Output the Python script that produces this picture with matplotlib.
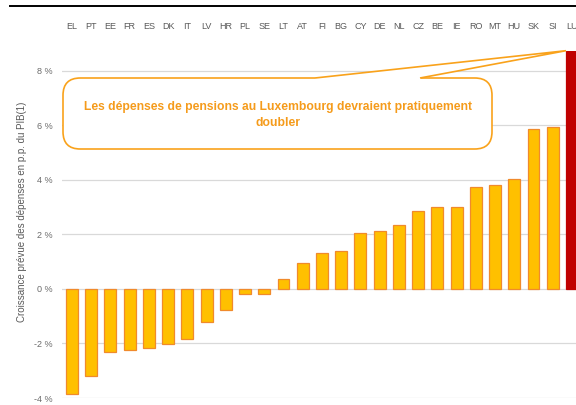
import matplotlib
matplotlib.use("Agg")
import matplotlib.pyplot as plt
from matplotlib.patches import FancyBboxPatch, Polygon
from matplotlib.lines import Line2D
from matplotlib.ticker import FuncFormatter

plt.rcParams['font.family'] = ['Liberation Sans', 'DejaVu Sans']

countries = ["EL", "PT", "EE", "FR", "ES", "DK", "IT", "LV", "HR", "PL", "SE", "LT", "AT",
             "FI", "BG", "CY", "DE", "NL", "CZ", "BE", "IE", "RO", "MT", "HU", "SK", "SI", "LU"]
values = [-3.85, -3.2, -2.31, -2.23, -2.15, -2.01, -1.85, -1.22, -0.77, -0.17, -0.17, 0.38, 0.97,
          1.32, 1.38, 2.06, 2.12, 2.33, 2.86, 3.0, 3.0, 3.75, 3.81, 4.02, 5.85, 5.94, 8.74]
yticks = [-4, -2, 0, 2, 4, 6, 8]
highlight = "LU"
callout_text = "Les dépenses de pensions au Luxembourg devraient pratiquement\ndoubler"
ylabel = "Croissance prévue des dépenses en p.p. du PIB(1)"

W, H = 576, 405
fig = plt.figure(figsize=(W / 100, H / 100), dpi=100)
ax = fig.add_axes([62 / W, 7 / H, (W - 62) / W, (398 - 50.7) / H])

bar_w = 0.62
colors = ['#C00000' if c == highlight else '#FFC000' for c in countries]
edges = ['#C00000' if c == highlight else '#F08A2C' for c in countries]
x = list(range(len(countries)))
ax.bar(x, values, width=bar_w, color=colors, edgecolor=edges, linewidth=0.9, zorder=3)

ax.set_xlim(-0.52, 26.21)
ax.set_ylim(-4.0, 8.74)
ax.set_yticks(yticks)
ax.yaxis.set_major_formatter(FuncFormatter(lambda v, p: f"{int(v)} %"))
ax.grid(axis='y', color='#d9d9d9', linewidth=0.9, zorder=0)
for s in ax.spines.values():
    s.set_visible(False)

ax.xaxis.tick_top()
ax.set_xticks(x)
ax.set_xticklabels(countries)
ax.tick_params(axis='x', length=0, pad=14, labelsize=6.5, labelcolor='#595959')
ax.tick_params(axis='y', length=0, pad=7, labelsize=6.5, labelcolor='#6b6b6b')

fig.text(22 / W, 1 - 212 / H, ylabel, rotation=90, ha='center', va='center',
         fontsize=7, color='#595959')

# top rule
fig.add_artist(Line2D([10 / W, 1.0], [1 - 6 / H, 1 - 6 / H], color='black', linewidth=1.4,
                      transform=fig.transFigure))

# callout
orange = '#F9A21B'
bx0, by0, bx1, by1 = 63, 78, 492, 149
box = FancyBboxPatch((bx0 / W, 1 - by1 / H), (bx1 - bx0) / W, (by1 - by0) / H,
                     boxstyle="round,pad=0,rounding_size=0.03",
                     transform=fig.transFigure, facecolor='white', edgecolor=orange,
                     linewidth=1.2, zorder=5, mutation_aspect=W / H)
fig.add_artist(box)
fig.add_artist(Line2D([316 / W, 419 / W], [1 - by0 / H, 1 - by0 / H], color='white',
                      linewidth=2.0, transform=fig.transFigure, zorder=6))
ilu = countries.index(highlight)
apex_disp = ax.transData.transform((ilu - bar_w / 2, values[ilu]))
apex = fig.transFigure.inverted().transform(apex_disp)
wedge = Polygon([(315 / W, 1 - by0 / H), tuple(apex), (420 / W, 1 - by0 / H)], closed=False,
                transform=fig.transFigure, facecolor='white', edgecolor=orange,
                linewidth=1.2, zorder=7)
fig.add_artist(wedge)
fig.text((bx0 + bx1) / 2 / W, 1 - 115 / H, callout_text, ha='center', va='center',
         fontsize=8.7, fontweight='bold', color='#F59B1B', linespacing=1.45, zorder=8)

fig.savefig("out.png", dpi=100)
